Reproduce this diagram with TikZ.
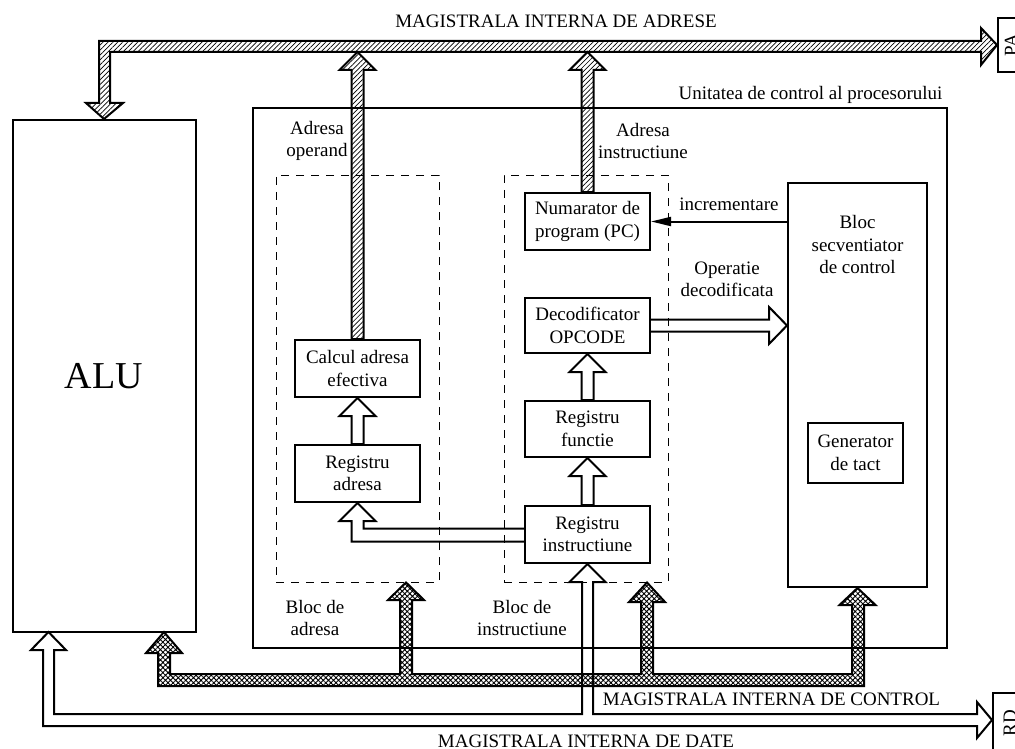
\documentclass[tikz,border=0pt]{standalone}
\usepackage{fontspec}
\usepackage{graphicx}
\setmainfont{Liberation Serif}
\usetikzlibrary{arrows.meta,patterns.meta,calc}

% wide bus arrow pointing up: #1 style, #2 foot (bottom centre), #3 tip
\newcommand{\busup}[3]{%
  \draw[#1] ($(#2)+(-6,0)$) -- ($(#3)+(-6,18)$) -- ($(#3)+(-18,18)$) -- (#3)
    -- ($(#3)+(18,18)$) -- ($(#3)+(6,18)$) -- ($(#2)+(6,0)$) -- cycle;}

\begin{document}
\begin{tikzpicture}[x=1pt,y=-1pt,
  every node/.style={font=\fontsize{19}{22.5}\selectfont, inner sep=0pt},
  blk/.style={draw, line width=2pt, fill=white, align=center},
  blockframe/.style={draw, line width=0.9pt, dash pattern=on 8pt off 7pt},
  txt/.style={align=center},
  busline/.style={line width=2pt, line join=miter},
  hatchbus/.style={busline, pattern={Lines[angle=45,distance=3.5pt,line width=0.7pt]}},
  crossbus/.style={busline, pattern={Hatch[angle=45,distance=3.6pt,line width=0.9pt]}},
  ctrl/.style={line width=2pt, -{Triangle[length=20pt,width=9pt]}}
]
\useasboundingbox (0,0) rectangle (1015,749);
\clip (0,0) rectangle (1015,749);
\fill[white] (0,0) rectangle (1015,749);

% processor control unit and its two functional groups
\node[draw, line width=2pt, minimum width=694pt, minimum height=540pt] (ucp) at (600,378) {};
\node[blockframe, minimum width=163pt, minimum height=407pt] (gadr) at (357.5,378.5) {};
\node[blockframe, minimum width=164pt, minimum height=407pt] (ginstr) at (586,378.5) {};

% functional blocks
\node[blk, minimum width=183pt, minimum height=512pt, font=\fontsize{38}{40}\selectfont] (alu) at (104,376) {ALU};
\node[blk, minimum width=125pt, minimum height=57pt] (pc) at (587.5,221.5) {Numarator de\\program (PC)};
\node[blk, minimum width=125pt, minimum height=55pt] (dec) at (587.5,325.5) {Decodificator\\OPCODE};
\node[blk, minimum width=125pt, minimum height=56pt] (rf) at (587.5,429) {Registru\\functie};
\node[blk, minimum width=125pt, minimum height=57pt] (ri) at (587.5,534.5) {Registru\\instructiune};
\node[blk, minimum width=125pt, minimum height=57pt] (cae) at (357.5,368.5) {Calcul adresa\\efectiva};
\node[blk, minimum width=125pt, minimum height=57pt] (ra) at (357.5,473.5) {Registru\\adresa};
\node[blk, minimum width=139pt, minimum height=404pt] (bsc) at (857.5,385) {};
\node[txt] (bsct) at (857.5,244.5) {Bloc\\secventiator\\de control};
\node[blk, minimum width=95pt, minimum height=60pt] (gen) at (855.5,453) {Generator\\de tact};
\node[draw, line width=2pt, minimum width=26pt, minimum height=54pt] (pa) at (1011,45) {\rotatebox{90}{PA}};
\node[draw, line width=2pt, minimum width=34pt, minimum height=60pt] (rd) at (1010,723) {\rotatebox{90}{RD}};

\coordinate (busbot) at (0,52);

% internal address bus
\draw[hatchbus] (alu.north) -- (123,103) -- (110,103) -- (110,52) -- (981,52) -- (981,65)
  -- (pa.west) -- (981,28) -- (981,41) -- (99,41) -- (99,103) -- (86,103) -- cycle;
\busup{hatchbus}{cae.north}{cae.north |- busbot}
\busup{hatchbus}{pc.north}{pc.north |- busbot}

% internal transfers
\busup{busline}{ra.north}{cae.south}
\busup{busline}{ri.north}{rf.south}
\busup{busline}{rf.north}{dec.south}
\draw[busline] ($(ri.west)+(0,-6)$) -- ($(ri.west -| ra.south)+(6,-6)$) -- ($(ra.south)+(6,18)$)
  -- ($(ra.south)+(18,18)$) -- (ra.south) -- ($(ra.south)+(-18,18)$) -- ($(ra.south)+(-6,18)$)
  -- ($(ri.west -| ra.south)+(-6,7)$) -- ($(ri.west)+(0,7)$);
\draw[busline] ($(dec.east)+(0,-6)$) -- ($(dec.east -| bsc.west)+(-18,-6)$) -- ($(dec.east -| bsc.west)+(-18,-18.5)$)
  -- (dec.east -| bsc.west) -- ($(dec.east -| bsc.west)+(-18,18.5)$) -- ($(dec.east -| bsc.west)+(-18,6)$)
  -- ($(dec.east)+(0,6)$);
\draw[ctrl] (pc.east -| bsc.west) -- (pc.east);

% internal data bus
\draw[busline] ($(ri.south)+(5.5,18)$) -- ($(ri.south)+(18,18)$) -- (ri.south) -- ($(ri.south)+(-18,18)$)
  -- ($(ri.south)+(-5.5,18)$) -- (582,714) -- (54,714) -- (54,650) -- (66,650) -- (48.5,632)
  -- (31,650) -- (43,650) -- (43,726) -- (977,726) -- (977,738) -- (rd.west |- 0,720) -- (977,702)
  -- (977,714) -- (593,714) -- cycle;

% internal control bus
\draw[crossbus] (164,632) -- (182,653) -- (170,653) -- (170,674) -- (400,674) -- (400,600) -- (388,600)
  -- (gadr.south -| 406,0) -- (424,600) -- (412,600) -- (412,674) -- (641,674) -- (641,602) -- (629,602)
  -- (ginstr.south -| 647,0) -- (665,602) -- (653,602) -- (653,674) -- (852,674) -- (852,605) -- (839.5,605)
  -- (bsc.south) -- (875.5,605) -- (864,605) -- (864,686) -- (158,686) -- (158,653) -- (146,653) -- cycle;

% labels
\node[anchor=base] (tbusa) at (556,28) {MAGISTRALA INTERNA DE ADRESE};
\node[anchor=base] (tucp) at (810.5,100) {Unitatea de control al procesorului};
\node[txt] (tadrop) at (317,140.8) {Adresa\\operand};
\node[txt] (tadrin) at (643,140.8) {Adresa\\instructiune};
\node[anchor=base] (tinc) at (729,211) {incrementare};
\node[txt] (topd) at (727,279.5) {Operatie\\decodificata};
\node[txt] (tbla) at (315,618) {Bloc de\\adresa};
\node[txt] (tbli) at (522,618) {Bloc de\\instructiune};
\node[anchor=base] (tbusc) at (771.5,705) {MAGISTRALA INTERNA DE CONTROL};
\node[anchor=base] (tbusd) at (586,747) {MAGISTRALA INTERNA DE DATE};
\end{tikzpicture}
\end{document}
